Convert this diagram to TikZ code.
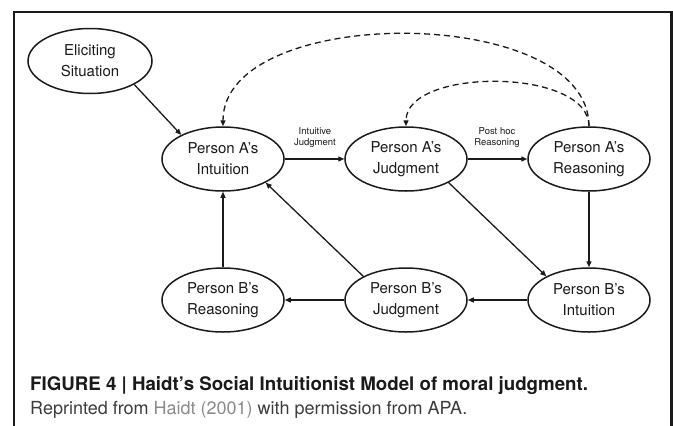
\documentclass[tikz,border=0pt]{standalone}
\usepackage{fontspec}
\setmainfont{TeX Gyre Heros}
\usetikzlibrary{shapes.geometric,arrows.meta}
\definecolor{ink}{HTML}{1A1A1A}
\definecolor{linkgray}{HTML}{8A8A8A}
\begin{document}
\begin{tikzpicture}[x=1pt,y=-1pt,
  state/.style={ellipse,draw=ink,line width=1.5pt,minimum width=122pt,minimum height=64pt,inner sep=1pt,align=center,font=\fontsize{15}{21}\selectfont,text=ink},
  flow/.style={draw=ink,line width=1.3pt,-{Triangle[length=6pt,width=5pt]}},
  back/.style={flow,dash pattern=on 6pt off 4pt},
  lab/.style={font=\fontsize{9.5}{11}\selectfont,align=center,text=ink,inner sep=0pt}]
\useasboundingbox (0,0) rectangle (673,426);
\draw[ink,line width=2.4pt] (14,426) -- (14,12) -- (671.5,12) -- (671.5,426);

\node[state,minimum width=124pt,minimum height=65pt] (elic) at (90,61) {Eliciting\\Situation};
\node[state] (aint) at (223,159) {Person A’s\\Intuition};
\node[state] (ajud) at (406,159) {Person A’s\\Judgment};
\node[state] (area) at (589,159) {Person A’s\\Reasoning};
\node[state] (brea) at (223,300) {Person B’s\\Reasoning};
\node[state] (bjud) at (406,300) {Person B’s\\Judgment};
\node[state] (bint) at (589,300) {Person B’s\\Intuition};

\node[lab] (l1) at (315,137.5) {Intuitive\\Judgment};
\node[lab] (l2) at (497,137.5) {Post hoc\\Reasoning};

\draw[flow] (elic.-28) -- (aint.150);
\draw[flow] (aint) -- (ajud);
\draw[flow] (ajud) -- (area);
\draw[flow] (area) -- (bint);
\draw[flow] (ajud.-29) -- (bint.151);
\draw[flow] (bint) -- (bjud);
\draw[flow] (bjud) -- (brea);
\draw[flow] (brea) -- (aint);
\draw[flow] (bjud.151) -- (aint.-29);

\draw[back] (area.north) .. controls +(0,-123) and +(0,-123) .. (aint.north);
\draw[back] (area.north) .. controls +(0,-59) and +(0,-59) .. (ajud.north);

\node[anchor=base west,font=\bfseries\fontsize{18.7}{22}\selectfont,text=ink,inner sep=0pt] (cap1) at (30,390) {FIGURE 4 | Haidt’s Social Intuitionist Model of moral judgment.};
\node[anchor=base west,font=\fontsize{18}{22}\selectfont,text=ink!85,inner sep=0pt] (cap2) at (30,414) {Reprinted from \textcolor{linkgray}{Haidt (2001)} with permission from APA.};
\end{tikzpicture}
\end{document}
